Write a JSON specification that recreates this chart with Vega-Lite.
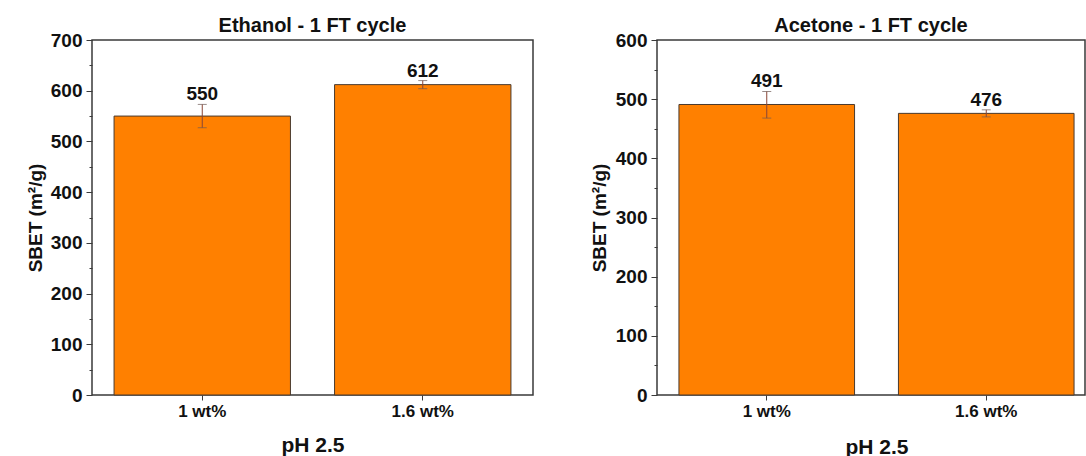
{
  "$schema": "https://vega.github.io/schema/vega-lite/v6.json",
  "autosize": {"type": "pad"},
  "padding": {"left": 25, "top": 15, "right": 0, "bottom": 0},
  "background": "white",
  "bounds": "flush",
  "spacing": 124,
  "config": {
    "font": "Liberation Sans",
    "view": {"stroke": "#3a3a3a", "strokeWidth": 1.5},
    "axis": {
      "labelFont": "Liberation Sans",
      "labelFontWeight": "bold",
      "labelColor": "#111",
      "titleFont": "Liberation Sans",
      "titleFontWeight": "bold",
      "titleColor": "#111",
      "tickColor": "#3a3a3a",
      "grid": false,
      "domain": false
    },
    "title": {"font": "Liberation Sans", "fontWeight": "bold", "fontSize": 20, "color": "#111", "anchor": "middle", "frame": "group", "offset": -5}
  },
  "hconcat": [
    {
      "width": 441,
      "height": 355,
      "title": {"text": "Ethanol - 1 FT cycle"},
      "data": {"values": [
        {"c": "1 wt%", "v": 550, "lo": 527, "hi": 573},
        {"c": "1.6 wt%", "v": 612, "lo": 604, "hi": 620}
      ]},
      "encoding": {
        "x": {"field": "c", "type": "nominal", "sort": null,
          "scale": {"paddingInner": 0.2, "paddingOuter": 0.1},
          "axis": {"title": "pH 2.5", "labelAngle": 0, "labelFontSize": 17, "labelPadding": 3, "tickSize": 5, "titleFontSize": 21, "titlePadding": 15}}
      },
      "resolve": {"axis": {"y": "independent"}},
      "layer": [
        {"mark": {"type": "bar", "color": "#ff8000", "stroke": "#4a3a2e", "strokeWidth": 1},
          "encoding": {"y": {"field": "v", "type": "quantitative", "scale": {"domain": [0, 700], "nice": false},
            "axis": {"orient": "left", "values": [0, 100, 200, 300, 400, 500, 600, 700], "labelFontSize": 19, "labelPadding": 4, "tickSize": 6, "title": "SBET (m²/g)", "titleFontSize": 19, "titlePadding": 5}}}},
        {"mark": {"type": "rule", "color": "#8a4535", "strokeWidth": 1},
          "encoding": {"y": {"field": "lo", "type": "quantitative",
            "axis": {"orient": "left", "values": [50, 150, 250, 350, 450, 550, 650], "labels": false, "tickSize": 3, "title": null}},
            "y2": {"field": "hi"}}},
        {"mark": {"type": "tick", "color": "#6e5a55", "thickness": 1, "size": 9, "orient": "horizontal"},
          "encoding": {"y": {"field": "lo", "type": "quantitative", "axis": null}}},
        {"mark": {"type": "tick", "color": "#6e5a55", "thickness": 1, "size": 9, "orient": "horizontal"},
          "encoding": {"y": {"field": "hi", "type": "quantitative", "axis": null}}},
        {"mark": {"type": "text", "dy": -4, "baseline": "alphabetic", "fontSize": 19, "fontWeight": "bold", "font": "Liberation Sans", "color": "#111"},
          "encoding": {"y": {"field": "hi", "type": "quantitative", "axis": null}, "text": {"field": "v", "type": "quantitative"}}}
      ]
    },
    {
      "width": 428,
      "height": 355,
      "title": {"text": "Acetone - 1 FT cycle"},
      "data": {"values": [
        {"c": "1 wt%", "v": 491, "lo": 468, "hi": 513},
        {"c": "1.6 wt%", "v": 476, "lo": 470, "hi": 482}
      ]},
      "encoding": {
        "x": {"field": "c", "type": "nominal", "sort": null,
          "scale": {"paddingInner": 0.2, "paddingOuter": 0.1, "range": [0, 439]},
          "axis": {"title": "pH 2.5", "labelAngle": 0, "labelFontSize": 17, "labelPadding": 3, "tickSize": 5, "titleFontSize": 21, "titlePadding": 17, "titleX": 219.5}}
      },
      "resolve": {"axis": {"y": "independent"}},
      "layer": [
        {"mark": {"type": "bar", "color": "#ff8000", "stroke": "#4a3a2e", "strokeWidth": 1},
          "encoding": {"y": {"field": "v", "type": "quantitative", "scale": {"domain": [0, 600], "nice": false},
            "axis": {"orient": "left", "values": [0, 100, 200, 300, 400, 500, 600], "labelFontSize": 19, "labelPadding": 4, "tickSize": 6, "title": "SBET (m²/g)", "titleFontSize": 19, "titlePadding": 6}}}},
        {"mark": {"type": "rule", "color": "#8a4535", "strokeWidth": 1},
          "encoding": {"y": {"field": "lo", "type": "quantitative",
            "axis": {"orient": "left", "values": [50, 150, 250, 350, 450, 550], "labels": false, "tickSize": 3, "title": null}},
            "y2": {"field": "hi"}}},
        {"mark": {"type": "tick", "color": "#6e5a55", "thickness": 1, "size": 9, "orient": "horizontal"},
          "encoding": {"y": {"field": "lo", "type": "quantitative", "axis": null}}},
        {"mark": {"type": "tick", "color": "#6e5a55", "thickness": 1, "size": 9, "orient": "horizontal"},
          "encoding": {"y": {"field": "hi", "type": "quantitative", "axis": null}}},
        {"mark": {"type": "text", "dy": -4, "baseline": "alphabetic", "fontSize": 19, "fontWeight": "bold", "font": "Liberation Sans", "color": "#111"},
          "encoding": {"y": {"field": "hi", "type": "quantitative", "axis": null}, "text": {"field": "v", "type": "quantitative"}}}
      ]
    }
  ]
}
